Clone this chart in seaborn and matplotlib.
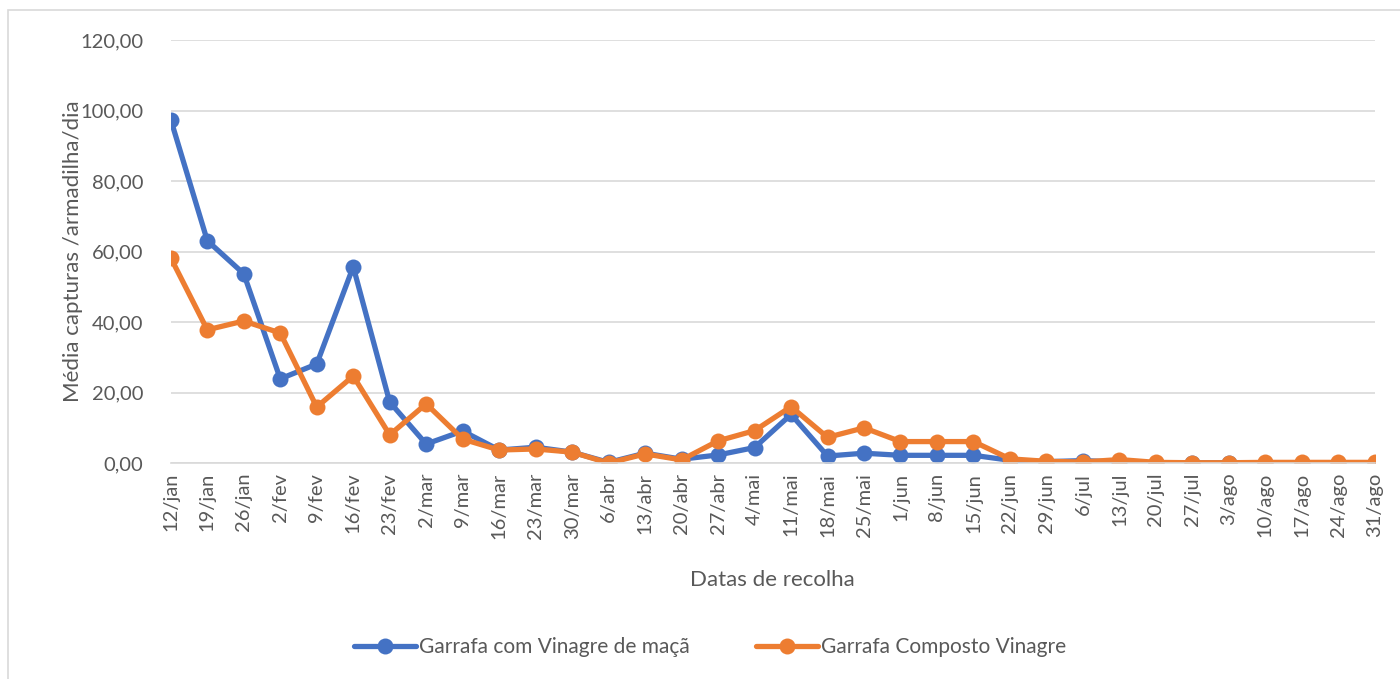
import pandas as pd
import numpy as np
import matplotlib
matplotlib.use('Agg')
import matplotlib.pyplot as plt
import seaborn as sns
from matplotlib.patches import Rectangle

# Collection dates (x categories)
dates = [
    "12/jan", "19/jan", "26/jan", "2/fev", "9/fev", "16/fev", "23/fev",
    "2/mar", "9/mar", "16/mar", "23/mar", "30/mar", "6/abr", "13/abr",
    "20/abr", "27/abr", "4/mai", "11/mai", "18/mai", "25/mai", "1/jun",
    "8/jun", "15/jun", "22/jun", "29/jun", "6/jul", "13/jul", "20/jul",
    "27/jul", "3/ago", "10/ago", "17/ago", "24/ago", "31/ago",
]

# Mean captures / trap / day
maca = [
    97.4, 63.1, 53.7, 23.9, 28.1, 55.7, 17.3,
    5.4, 9.1, 3.7, 4.5, 3.1, 0.2, 2.8,
    1.1, 2.3, 4.4, 13.8, 2.0, 2.8, 2.2,
    2.2, 2.2, 0.8, 0.4, 0.7, 0.3, 0.1,
    0.1, 0.1, 0.1, 0.1, 0.1, 0.1,
]
composto = [
    58.2, 37.8, 40.3, 36.9, 15.9, 24.7, 8.0,
    16.8, 6.8, 3.7, 4.0, 3.1, 0.0, 2.6,
    0.9, 6.3, 9.2, 16.0, 7.3, 10.0, 6.1,
    6.1, 6.1, 1.2, 0.5, 0.3, 1.0, 0.2,
    0.1, 0.1, 0.2, 0.2, 0.2, 0.2,
]

series_names = ["Garrafa com Vinagre de maçã", "Garrafa Composto Vinagre"]
colors = ["#4472C4", "#ED7D31"]

df = pd.DataFrame({
    "pos": list(range(len(dates))) * 2,
    "valor": maca + composto,
    "serie": [series_names[0]] * len(dates) + [series_names[1]] * len(dates),
})

sns.set_theme(style="white")
plt.rcParams['font.family'] = ['Lato', 'DejaVu Sans']
text_color = "#595959"

fig = plt.figure(figsize=(14, 6.79), dpi=100)
ax = fig.add_axes([0.122, 0.318, 0.860, 0.623])

sns.lineplot(
    data=df, x="pos", y="valor", hue="serie", hue_order=series_names,
    palette=colors, marker="o", markersize=11.5, markeredgewidth=0,
    linewidth=3.8, ax=ax, sort=False,
)

ax.set_xlim(0, len(dates) - 1)
ax.set_ylim(0, 120)
yt = np.arange(0, 121, 20)
ax.set_yticks(yt)
ax.set_yticklabels([f"{v:.2f}".replace(".", ",") for v in yt],
                   fontsize=14.5, color=text_color)
ax.set_xticks(range(len(dates)))
ax.set_xticklabels(dates, rotation=90, fontsize=14.5, color=text_color)
ax.tick_params(axis="y", length=0, pad=20)
ax.tick_params(axis="x", length=0, pad=7)
ax.yaxis.grid(True, color="#D9D9D9", linewidth=1.2)
ax.set_axisbelow(True)
for side in ["top", "right", "left"]:
    ax.spines[side].set_visible(False)
ax.spines["bottom"].set_color("#D9D9D9")
ax.spines["bottom"].set_linewidth(1.2)

ax.set_xlabel("Datas de recolha", fontsize=16, color=text_color, labelpad=22)
ax.set_ylabel("Média capturas /armadilha/dia", fontsize=16, color=text_color, labelpad=-2)

handles, labels = ax.get_legend_handles_labels()
leg = ax.legend(handles, labels, loc="center", ncol=2, frameon=False, fontsize=15,
                labelcolor=text_color, handlelength=3.0, handletextpad=0.1,
                columnspacing=3.2)
leg.set_bbox_to_anchor((0.507, 0.047), transform=fig.transFigure)

# light chart border like the Excel chart area
fig.patches.append(Rectangle((0.006, -0.01), 1.0, 0.995, transform=fig.transFigure,
                             fill=False, edgecolor="#D9D9D9", linewidth=1.2))

fig.savefig("out.png", dpi=100)
